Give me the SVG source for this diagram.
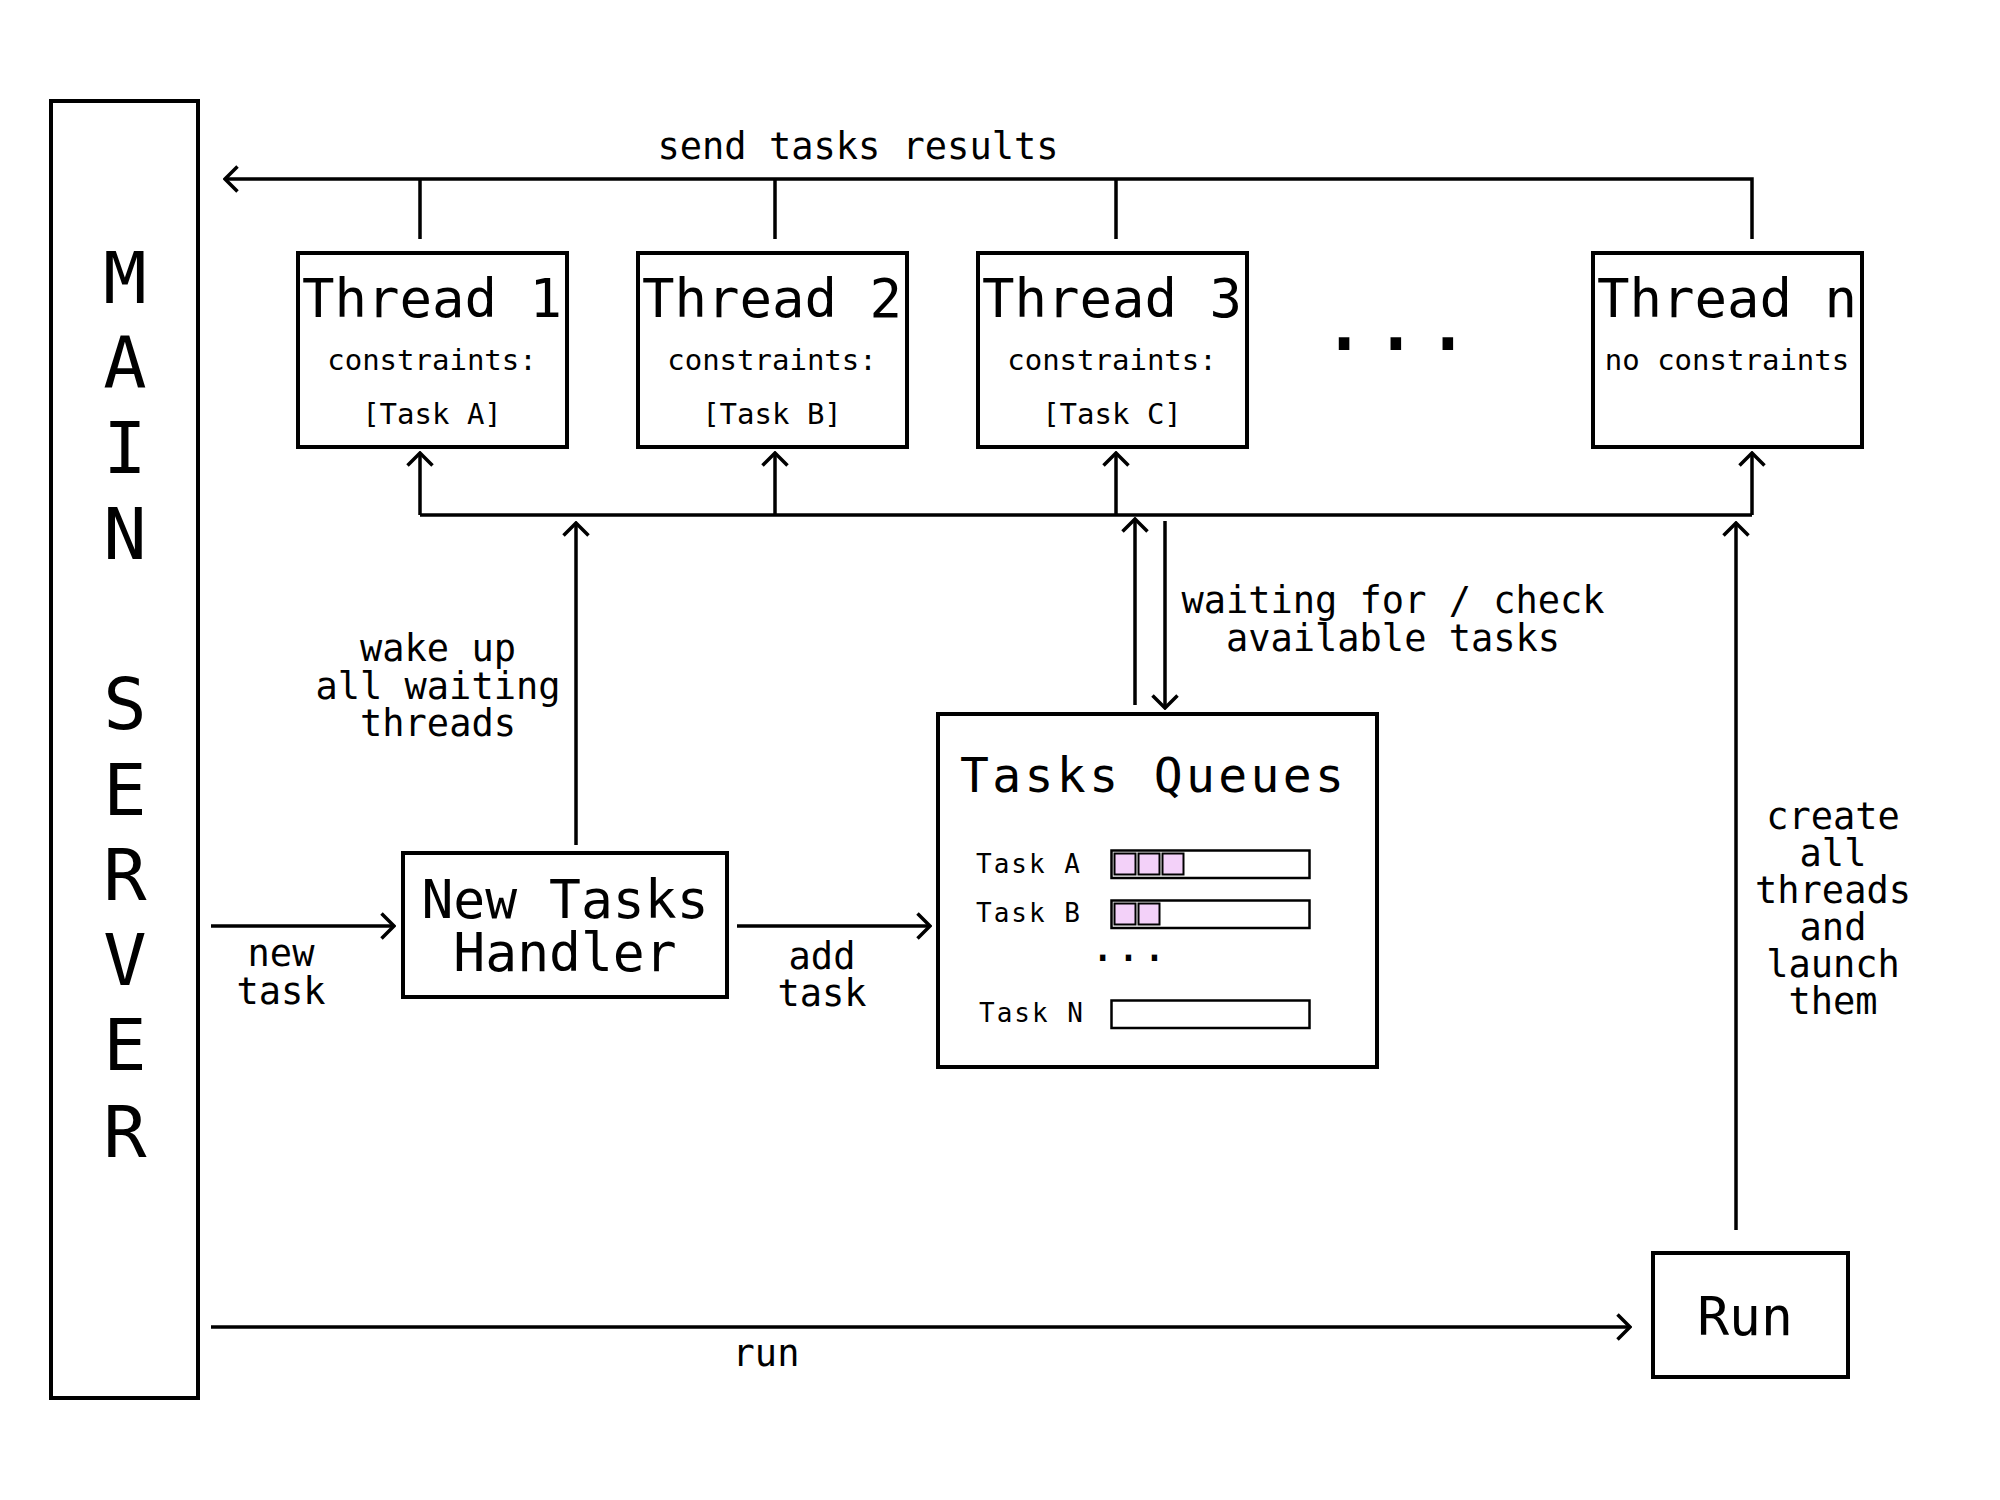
<svg xmlns="http://www.w3.org/2000/svg" width="2000" height="1500" viewBox="0 0 2000 1500">
<defs>
<style>
text{font-family:"DejaVu Sans Mono","Liberation Mono",monospace;fill:#000}
.box{fill:#fff;stroke:#000;stroke-width:4}
.ln{fill:none;stroke:#000;stroke-width:3.5}
.big{font-size:54px;text-anchor:middle}
.sub{font-size:29px;text-anchor:middle}
.lbl{font-size:37px;text-anchor:middle}
.ms{font-size:72px;text-anchor:middle}
.bar{fill:#fff;stroke:#000;stroke-width:2.5}
.cell{fill:#f3d1f9;stroke:#000;stroke-width:2}
.tl{font-size:26px}
</style>
<marker id="ah" viewBox="-14 -14 16 28" markerWidth="16" markerHeight="28" refX="0" refY="0" orient="auto" markerUnits="userSpaceOnUse">
<path d="M -12.5 -12.5 L 0 0 L -12.5 12.5" fill="none" stroke="#000" stroke-width="3.5"/>
</marker>
</defs>
<rect width="2000" height="1500" fill="#fff"/>

<g id="main-server">
<rect class="box" x="51" y="101" width="147" height="1297"/>
<text class="ms" x="125" y="303">M</text>
<text class="ms" x="125" y="388">A</text>
<text class="ms" x="125" y="473">I</text>
<text class="ms" x="125" y="559">N</text>
<text class="ms" x="125" y="729">S</text>
<text class="ms" x="125" y="815">E</text>
<text class="ms" x="125" y="900">R</text>
<text class="ms" x="125" y="985">V</text>
<text class="ms" x="125" y="1070">E</text>
<text class="ms" x="125" y="1157">R</text>
</g>

<g id="thread-1">
<rect class="box" x="298" y="253" width="269" height="194"/>
<text class="big" x="432" y="317">Thread 1</text>
<text class="sub" x="432" y="370">constraints:</text>
<text class="sub" x="432" y="424">[Task A]</text>
</g>
<g id="thread-2">
<rect class="box" x="638" y="253" width="269" height="194"/>
<text class="big" x="772" y="317">Thread 2</text>
<text class="sub" x="772" y="370">constraints:</text>
<text class="sub" x="772" y="424">[Task B]</text>
</g>
<g id="thread-3">
<rect class="box" x="978" y="253" width="269" height="194"/>
<text class="big" x="1112" y="317">Thread 3</text>
<text class="sub" x="1112" y="370">constraints:</text>
<text class="sub" x="1112" y="424">[Task C]</text>
</g>
<g id="ellipsis">
<text x="1396" y="350" style="font-size:86px;text-anchor:middle">...</text>
</g>
<g id="thread-n">
<rect class="box" x="1593" y="253" width="269" height="194"/>
<text class="big" x="1727" y="317">Thread n</text>
<text class="sub" x="1727" y="370">no constraints</text>
</g>

<g id="new-tasks-handler">
<rect class="box" x="403" y="853" width="324" height="144"/>
<text class="big" style="font-size:53px" x="565" y="918">New Tasks</text>
<text class="big" style="font-size:53px" x="565" y="971">Handler</text>
</g>

<g id="tasks-queues">
<rect class="box" x="938" y="714" width="439" height="353"/>
<text x="960" y="792" style="font-size:48px" textLength="384">Tasks Queues</text>
<text class="tl" x="976" y="873" textLength="104">Task A</text>
<rect class="bar" x="1111.5" y="850.5" width="198" height="27.5"/>
<rect class="cell" x="1114.5" y="853.5" width="21" height="21"/>
<rect class="cell" x="1138.5" y="853.5" width="21" height="21"/>
<rect class="cell" x="1162.5" y="853.5" width="21" height="21"/>
<text class="tl" x="976" y="922" textLength="104">Task B</text>
<rect class="bar" x="1111.5" y="900.5" width="198" height="27.5"/>
<rect class="cell" x="1114.5" y="903.5" width="21" height="21"/>
<rect class="cell" x="1138.5" y="903.5" width="21" height="21"/>
<text x="1128.5" y="961" style="font-size:43px;text-anchor:middle">...</text>
<text class="tl" x="979" y="1022" textLength="104">Task N</text>
<rect class="bar" x="1111.5" y="1000.5" width="198" height="27.5"/>
</g>

<g id="run">
<rect class="box" x="1653" y="1253" width="195" height="124"/>
<text class="big" style="font-size:53px" x="1745" y="1335">Run</text>
</g>

<g id="connectors">
<path class="ln" d="M 1752 239 V 179 H 225" marker-end="url(#ah)"/>
<path class="ln" d="M 420 239 V 179 M 775 239 V 179 M 1116 239 V 179"/>
<path class="ln" d="M 420 515 H 1752"/>
<path class="ln" d="M 420 515 V 453" marker-end="url(#ah)"/>
<path class="ln" d="M 775 515 V 453" marker-end="url(#ah)"/>
<path class="ln" d="M 1116 515 V 453" marker-end="url(#ah)"/>
<path class="ln" d="M 1752 515 V 453" marker-end="url(#ah)"/>
<path class="ln" d="M 576 845 V 523" marker-end="url(#ah)"/>
<path class="ln" d="M 1135 705 V 519" marker-end="url(#ah)"/>
<path class="ln" d="M 1165 521 V 708" marker-end="url(#ah)"/>
<path class="ln" d="M 1736 1230 V 523" marker-end="url(#ah)"/>
<path class="ln" d="M 211 926 H 394" marker-end="url(#ah)"/>
<path class="ln" d="M 737 926 H 930" marker-end="url(#ah)"/>
<path class="ln" d="M 211 1327 H 1630" marker-end="url(#ah)"/>
<text class="lbl" x="858" y="159">send tasks results</text>
<text class="lbl" x="438" y="661">wake up</text>
<text class="lbl" x="438" y="699">all waiting</text>
<text class="lbl" x="438" y="736">threads</text>
<text class="lbl" x="1393" y="613">waiting for / check</text>
<text class="lbl" x="1393" y="651">available tasks</text>
<text class="lbl" x="281" y="966">new</text>
<text class="lbl" x="281" y="1004">task</text>
<text class="lbl" x="822" y="969">add</text>
<text class="lbl" x="822" y="1006">task</text>
<text class="lbl" x="766" y="1366">run</text>
<text class="lbl" x="1833" y="829">create</text>
<text class="lbl" x="1833" y="866">all</text>
<text class="lbl" x="1833" y="903">threads</text>
<text class="lbl" x="1833" y="940">and</text>
<text class="lbl" x="1833" y="977">launch</text>
<text class="lbl" x="1833" y="1014">them</text>
</g>
</svg>
